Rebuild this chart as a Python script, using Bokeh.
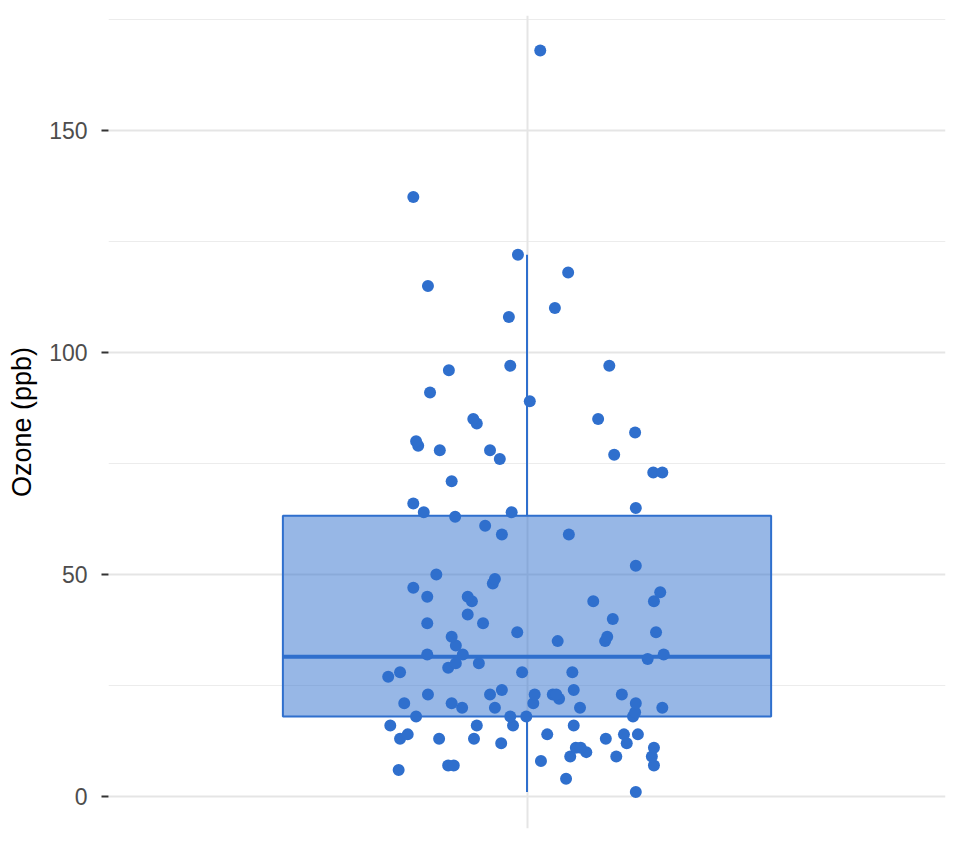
from bokeh.plotting import figure
from bokeh.models import Range1d, FixedTicker, Grid, LinearAxis, ColumnDataSource
from bokeh.embed import file_html
from bokeh.resources import INLINE
import numpy as np

# Ozone (ppb) observations, sorted
ozone = [1, 4, 6, 7, 7, 7, 8, 9, 9, 9,
         10, 11, 11, 11, 12, 12, 13, 13, 13, 13,
         14, 14, 14, 14, 16, 16, 16, 16, 18, 18,
         18, 18, 19, 20, 20, 20, 20, 21, 21, 21,
         21, 22, 23, 23, 23, 23, 23, 23, 24, 24,
         27, 28, 28, 28, 29, 30, 30, 31, 32, 32,
         32, 34, 35, 35, 36, 36, 37, 37, 39, 39,
         40, 41, 44, 44, 44, 45, 45, 46, 47, 48,
         49, 50, 52, 59, 59, 61, 63, 64, 64, 65,
         66, 71, 73, 73, 76, 77, 78, 78, 79, 80,
         82, 84, 85, 85, 89, 91, 96, 97, 97, 108,
         110, 115, 118, 122, 135, 168]

# horizontal jitter of each point (category units)
jitter = [0.156, 0.056, -0.184, -0.113, -0.105, 0.182, 0.020, 0.062, 0.128, 0.179,
          0.085, 0.070, 0.077, 0.182, -0.037, 0.143, -0.182, -0.126, -0.076, 0.113,
          -0.171, 0.029, 0.139, 0.159, -0.196, -0.072, -0.020, 0.067, -0.159, -0.024,
          -0.001, 0.152, 0.155, -0.093, -0.046, 0.076, 0.194, -0.176, -0.108, 0.009,
          0.156, 0.046, -0.142, -0.053, 0.011, 0.037, 0.042, 0.136, -0.036, 0.067,
          -0.199, -0.182, -0.007, 0.065, -0.113, -0.102, -0.069, 0.173, -0.143, -0.092,
          0.196, -0.102, 0.044, 0.112, -0.108, 0.115, -0.014, 0.185, -0.143, -0.063,
          0.123, -0.085, -0.079, 0.095, 0.182, -0.143, -0.085, 0.191, -0.163, -0.049,
          -0.046, -0.130, 0.156, -0.036, 0.060, -0.060, -0.103, -0.148, -0.022, 0.156,
          -0.163, -0.108, 0.181, 0.194, -0.039, 0.125, -0.125, -0.053, -0.156, -0.159,
          0.155, -0.072, -0.077, 0.102, 0.004, -0.139, -0.112, -0.024, 0.118, -0.026,
          0.040, -0.142, 0.059, -0.013, -0.163, 0.019]

y_ticks = [0, 50, 100, 150]
y_minor = [25, 75, 125, 175]
y_label = "Ozone (ppb)"

BLUE = "#2f6fcd"
center = 1.0
box_half = 0.35

vals = np.array(ozone, dtype=float)
q1, med, q3 = np.percentile(vals, [25, 50, 75])
iqr = q3 - q1
w_hi = vals[vals <= q3 + 1.5 * iqr].max()
w_lo = vals[vals >= q1 - 1.5 * iqr].min()

p = figure(width=960, height=844, output_backend="svg", toolbar_location=None,
           x_range=Range1d(0.4, 1.6), y_range=Range1d(-7.2, 175.9),
           x_axis_location=None, y_axis_location=None,
           min_border_left=108, min_border_right=15, min_border_top=15, min_border_bottom=16)
p.outline_line_color = None
p.background_fill_color = "white"
p.border_fill_color = "white"
# drop default grids
p.center = [r for r in p.center if not isinstance(r, Grid)]

yticker = FixedTicker(ticks=y_ticks, minor_ticks=y_minor)
yaxis = LinearAxis(ticker=yticker, axis_label=y_label)
yaxis.axis_line_color = None
yaxis.major_tick_line_color = "#333333"
yaxis.major_tick_line_width = 2
yaxis.major_tick_out = 7
yaxis.major_tick_in = 0
yaxis.minor_tick_out = 0
yaxis.minor_tick_in = 0
yaxis.minor_tick_line_color = None
yaxis.major_label_standoff = 14
yaxis.major_label_text_font = "Liberation Sans"
yaxis.major_label_text_font_size = "23px"
yaxis.major_label_text_color = "#4d4d4d"
yaxis.axis_label_text_font = "Liberation Sans"
yaxis.axis_label_text_font_size = "27px"
yaxis.axis_label_text_font_style = "normal"
yaxis.axis_label_text_color = "#000000"
yaxis.axis_label_standoff = 9
p.add_layout(yaxis, "left")

p.add_layout(Grid(dimension=1, ticker=yticker, grid_line_color="#e5e5e5", grid_line_width=2,
                  minor_grid_line_color="#ececec", minor_grid_line_width=1))
p.add_layout(Grid(dimension=0, ticker=FixedTicker(ticks=[center]), grid_line_color="#e5e5e5",
                  grid_line_width=2))

# whiskers
p.segment(x0=[center, center], y0=[q3, q1], x1=[center, center], y1=[w_hi, w_lo],
          line_color=BLUE, line_width=2)
# box
p.quad(left=[center - box_half], right=[center + box_half], bottom=[q1], top=[q3],
       fill_color=BLUE, fill_alpha=0.5, line_color=BLUE, line_width=2)
# median
p.segment(x0=[center - box_half], y0=[med], x1=[center + box_half], y1=[med],
          line_color=BLUE, line_width=4)

src = ColumnDataSource(dict(x=[center + j for j in jitter], y=ozone))
p.scatter("x", "y", source=src, size=12, fill_color=BLUE, line_color=None)

open("out.html", "w").write(file_html(p, INLINE))
